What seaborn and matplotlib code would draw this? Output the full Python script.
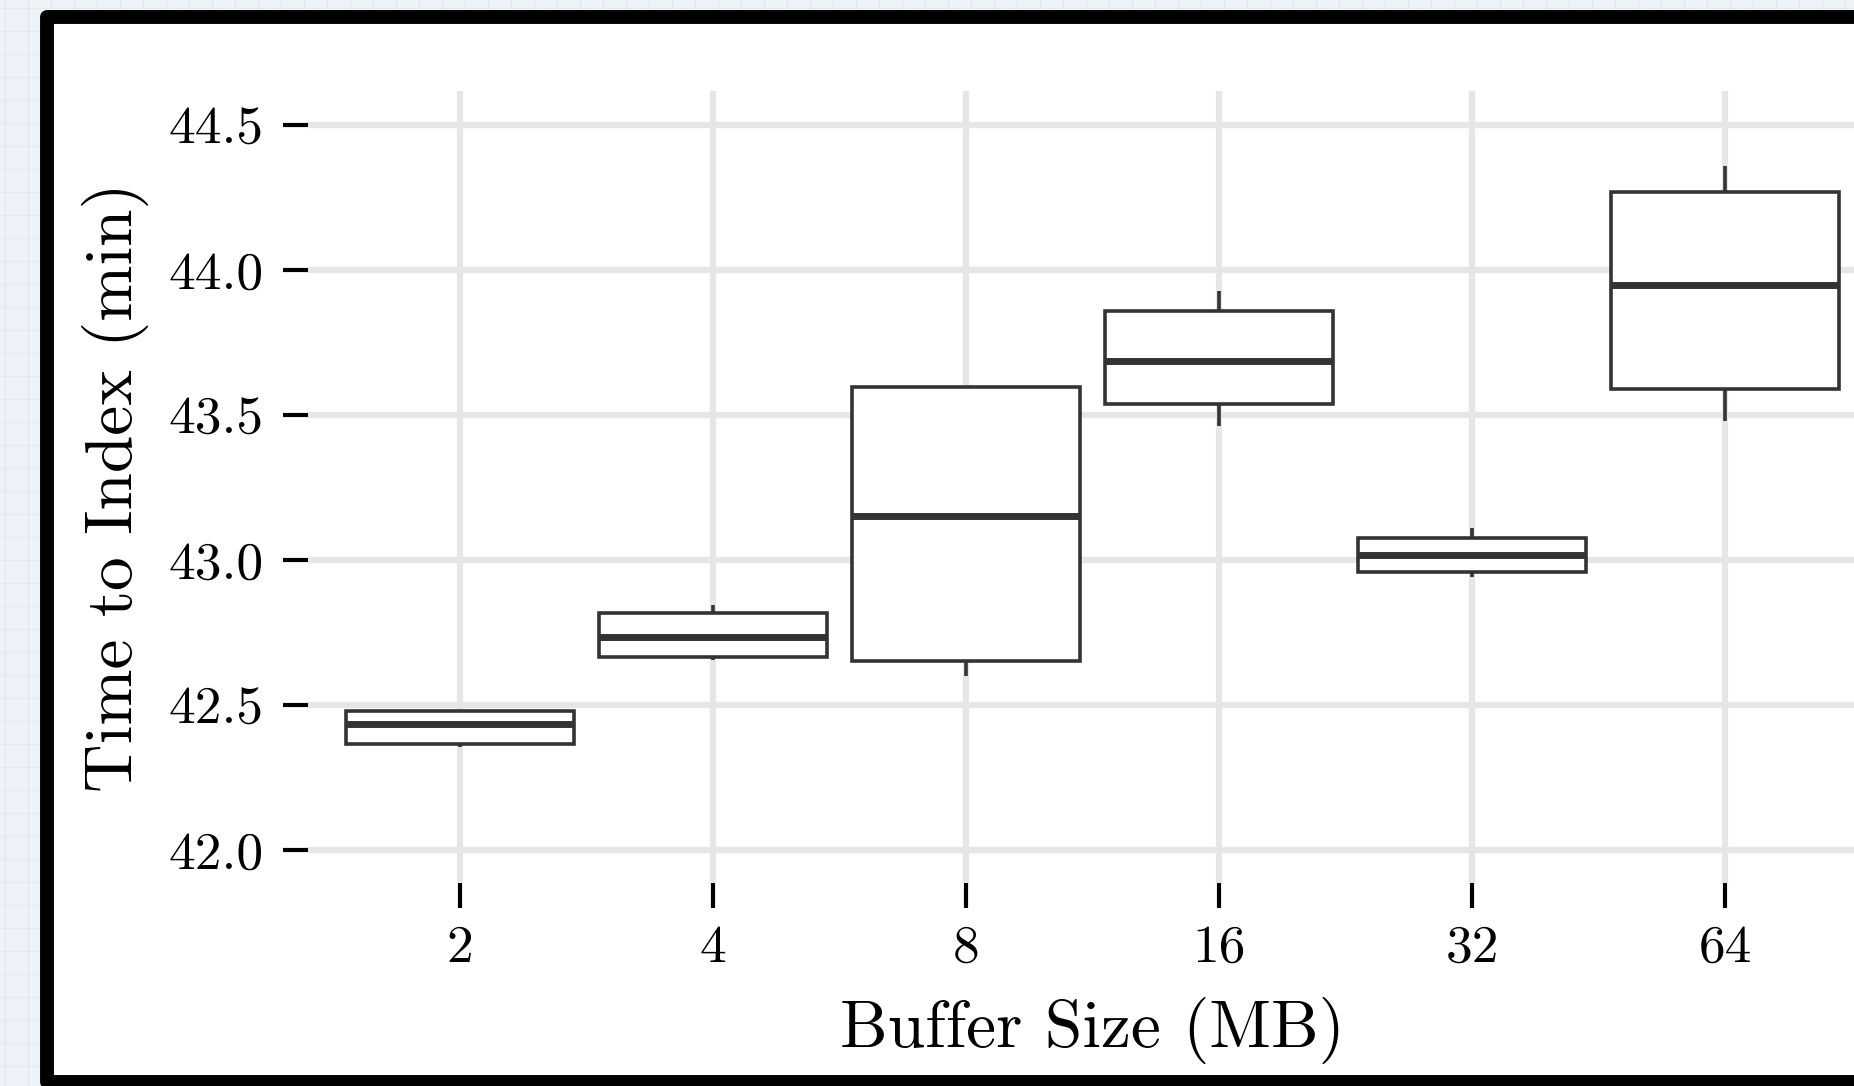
import numpy as np
import pandas as pd
import matplotlib
matplotlib.use("Agg")
import matplotlib.pyplot as plt
from matplotlib.patches import Rectangle
from matplotlib.lines import Line2D
import seaborn as sns

# ---- data ----
sizes = ["2", "4", "8", "16", "32", "64"]
whisker_low = [42.355, 42.655, 42.601, 43.462, 42.940, 43.479]
q1 = [42.366, 42.666, 42.653, 43.536, 42.960, 43.588]
median = [42.435, 42.733, 43.153, 43.687, 43.017, 43.948]
q3 = [42.480, 42.816, 43.597, 43.859, 43.074, 44.270]
whisker_high = [42.482, 42.843, 43.597, 43.928, 43.111, 44.360]

y_ticks = [42.0, 42.5, 43.0, 43.5, 44.0, 44.5]
y_tick_labels = ["42.0", "42.5", "43.0", "43.5", "44.0", "44.5"]
x_title = "Buffer Size (MB)"
y_title = "Time to Index (min)"

# five values per group give exactly these quartiles / whisker ends
rows = []
for s, a, b, c, d, e in zip(sizes, whisker_low, q1, median, q3, whisker_high):
    for v in (a, b, c, d, e):
        rows.append({"size": s, "time": v})
df = pd.DataFrame(rows)

sns.set_theme(style="whitegrid")
plt.rcParams["font.family"] = ["cmr10", "DejaVu Serif"]
plt.rcParams["mathtext.fontset"] = "cm"
plt.rcParams["axes.formatter.use_mathtext"] = True

W, H = 1854, 1086
fig = plt.figure(figsize=(W / 100, H / 100), dpi=100)
fig.patch.set_facecolor("#eef3f8")

# grid-paper background
for xp in np.arange(5, W, 23):
    fig.add_artist(Line2D([xp / W, xp / W], [0, 1], transform=fig.transFigure,
                          color="#dce7f1", lw=0.8, zorder=-3))
for yp in np.arange(8, H, 23):
    fig.add_artist(Line2D([0, 1], [1 - yp / H, 1 - yp / H], transform=fig.transFigure,
                          color="#e2e9f2", lw=0.8, zorder=-3))

# white card with thick black border
x0, y0t, y0b, x1 = 46.5, 17.0, 1082, 1910
card = Rectangle((x0 / W, 1 - y0b / H), (x1 - x0) / W, (y0b - y0t) / H,
                 transform=fig.transFigure, facecolor="white", edgecolor="none",
                 zorder=-2)
fig.add_artist(card)
bx = [x1, x0, x0, x1]
by = [y0t, y0t, y0b, y0b]
border = Line2D([v / W for v in bx], [1 - v / H for v in by], transform=fig.transFigure,
                color="black", lw=10, solid_joinstyle="round", solid_capstyle="round",
                zorder=-1)
fig.add_artist(border)

# axes placed in pixels: panel x 308..1877, y 91..883
ax_l, ax_r, ax_t, ax_b = 308, 1877, 91, 883
ax = fig.add_axes([ax_l / W, 1 - ax_b / H, (ax_r - ax_l) / W, (ax_b - ax_t) / H])
ax.set_facecolor("white")

sns.boxplot(data=df, x="size", y="time", order=sizes, ax=ax, width=0.9,
            color="white", saturation=1, linecolor="#333333", linewidth=2.6,
            showcaps=False, whis=(0, 100), fliersize=0,
            medianprops={"linewidth": 5.0, "color": "#333333"},
            boxprops={"facecolor": "white", "edgecolor": "#333333"},
            whiskerprops={"color": "#333333"})

ax.set_xlim(-0.6, 5.6)
ax.set_ylim(41.886, 44.617)
ax.set_yticks(y_ticks)
ax.set_yticklabels(y_tick_labels)

ax.grid(True, color="#e6e6e6", lw=4.5)
ax.set_axisbelow(True)
for sp in ax.spines.values():
    sp.set_visible(False)

ax.tick_params(axis="both", which="major", direction="out", length=18, width=3,
               color="black", labelsize=38.5, labelcolor="black")
ax.tick_params(axis="y", pad=14, left=True)
ax.tick_params(axis="x", pad=12, bottom=True)

ax.set_xlabel(x_title, fontsize=48.5, color="black")
ax.set_ylabel(y_title, fontsize=48.5, color="black")
ax.xaxis.label.set_verticalalignment("center")
ax.yaxis.label.set_verticalalignment("center")
ax.xaxis.set_label_coords(0.5, -(1030 - ax_b) / (ax_b - ax_t))
ax.yaxis.set_label_coords(-(ax_l - 116) / (ax_r - ax_l), 0.5)

fig.savefig("out.png", dpi=100, facecolor=fig.get_facecolor())
